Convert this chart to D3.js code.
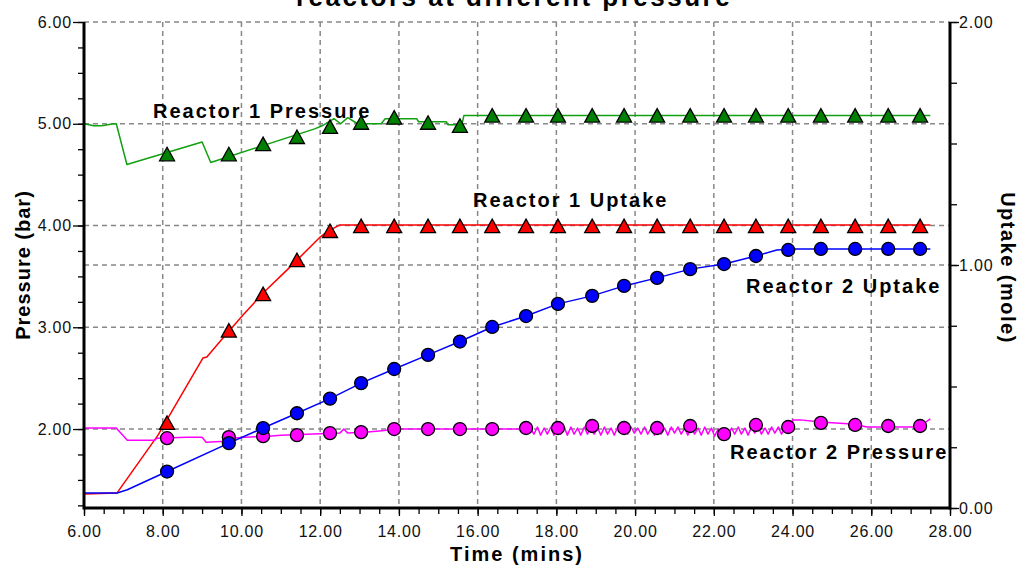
<!DOCTYPE html>
<html>
<head>
<meta charset="utf-8">
<script src="https://cdn.jsdelivr.net/npm/d3@7"></script>
<style>
  body { margin: 0; background: #fff; }
  svg { display: block; font-family: "Liberation Sans", Arial, sans-serif; }
</style>
</head>
<body>
<svg id="chart" width="1021" height="567"></svg>
<script>
// --- tick labels ---
const xMajor = [6, 8, 10, 12, 14, 16, 18, 20, 22, 24, 26, 28];
const leftMajor = [2, 3, 4, 5, 6];
const rightMajor = [0, 1, 2];

// --- marker times (mins), shared by all four series ---
const markerTimes = [8.11, 9.68, 10.55, 11.41, 12.25, 13.04, 13.88, 14.74, 15.55, 16.37, 17.23, 18.04,
    18.91, 19.72, 20.56, 21.40, 22.26, 23.07, 23.89, 24.72, 25.59, 26.43, 27.24];

// marker values
const r1PressureMarks = [4.70, 4.70, 4.80, 4.87, 4.97, 5.01, 5.06, 5.01, 4.98, 5.08, 5.08, 5.08,
    5.08, 5.08, 5.08, 5.08, 5.08, 5.08, 5.08, 5.08, 5.08, 5.08, 5.08];
const r1UptakeMarks = [0.35, 0.73, 0.88, 1.02, 1.14, 1.16, 1.16, 1.16, 1.16, 1.16, 1.16, 1.16,
    1.16, 1.16, 1.16, 1.16, 1.16, 1.16, 1.16, 1.16, 1.16, 1.16, 1.16];
const r2UptakeMarks = [0.150, 0.267, 0.329, 0.390, 0.450, 0.514, 0.572, 0.630, 0.685, 0.745, 0.790, 0.840,
    0.873, 0.914, 0.947, 0.983, 1.004, 1.037, 1.062, 1.066, 1.066, 1.066, 1.066];
const r2PressureMarks = [1.91, 1.92, 1.93, 1.94, 1.96, 1.97, 2.00, 2.00, 2.00, 2.00, 2.01, 2.01,
    2.03, 2.01, 2.01, 2.03, 1.95, 2.04, 2.02, 2.06, 2.04, 2.03, 2.03];

// --- continuous traces [time, value] ---
const r1PressureLine = [[6.00, 5.00], [6.25, 4.98], [6.45, 4.98], [6.75, 5.00], [6.82, 5.00], [7.09, 4.60],
    [9.00, 4.82], [9.22, 4.62], [11.86, 4.95], [12.05, 4.98], [12.35, 5.05], [12.52, 5.00], [12.70, 5.06],
    [12.95, 5.00], [13.55, 5.00], [13.65, 5.05], [14.45, 5.05], [14.50, 5.02], [15.20, 5.02], [15.25, 4.99],
    [15.60, 4.99], [15.65, 5.08], [27.50, 5.08]];

const r1UptakeLine = [[6.00, 0.058], [6.84, 0.062], [7.88, 0.30], [9.02, 0.617], [9.12, 0.621], [9.53, 0.70],
    [10.04, 0.794], [10.55, 0.885], [11.16, 0.98], [12.00, 1.115], [12.17, 1.136], [12.50, 1.165], [27.50, 1.165]];

const r2UptakeLine = [[6.00, 0.062], [6.84, 0.062], [7.10, 0.075], [8.11, 0.150], [9.68, 0.267], [10.55, 0.329],
    [11.41, 0.390], [12.25, 0.450], [13.04, 0.514], [13.88, 0.572], [14.74, 0.630], [15.55, 0.685], [16.37, 0.745],
    [17.23, 0.790], [18.04, 0.840], [18.91, 0.873], [19.72, 0.914], [20.56, 0.947], [21.40, 0.983], [22.26, 1.004],
    [23.07, 1.037], [23.60, 1.062], [24.00, 1.066], [27.50, 1.066]];

const r2PressureLine = [[6.00, 2.01], [6.82, 2.01], [7.10, 1.89], [7.80, 1.89], [7.85, 1.91], [8.60, 1.92],
    [9.00, 1.92], [9.10, 1.87], [9.60, 1.88], [9.70, 1.91], [10.10, 1.92], [10.70, 1.93], [11.00, 1.94],
    [12.50, 1.96], [12.60, 2.00], [12.70, 1.96], [13.20, 1.97], [13.50, 1.98], [14.00, 2.00], [17.35, 2.00],
    [17.43, 1.95], [17.52, 2.02], [17.60, 1.94], [17.69, 2.01], [17.77, 1.95], [17.86, 2.02], [17.94, 1.94],
    [18.03, 2.01], [18.11, 1.95], [18.20, 2.02], [18.28, 1.94], [18.37, 2.02], [18.45, 1.95], [18.54, 2.01],
    [18.62, 1.94], [18.71, 2.02], [18.79, 1.95], [18.88, 2.02], [18.96, 1.95], [19.05, 2.01], [19.13, 1.94],
    [19.22, 2.02], [19.30, 1.95], [19.39, 2.01], [19.47, 1.94], [19.56, 2.02], [19.64, 1.96], [19.73, 2.01],
    [19.81, 1.95], [19.90, 2.02], [19.98, 1.96], [20.07, 2.01], [20.15, 1.95], [20.24, 2.02], [20.32, 1.95],
    [20.41, 2.01], [20.49, 1.94], [20.58, 2.02], [20.66, 1.95], [20.75, 2.01], [20.83, 1.94], [20.92, 2.02],
    [21.00, 1.96], [21.09, 2.02], [21.17, 1.95], [21.26, 2.01], [21.34, 1.94], [21.43, 2.02], [21.51, 1.95],
    [21.60, 2.01], [21.68, 1.94], [21.77, 2.02], [21.85, 1.95], [21.94, 2.01], [22.02, 1.93], [22.11, 2.00],
    [22.19, 1.93], [22.28, 1.99], [22.36, 1.94], [22.45, 2.01], [22.53, 1.95], [22.62, 2.02], [22.70, 1.95],
    [22.79, 2.01], [22.87, 1.94], [22.96, 2.02], [23.04, 1.96], [23.13, 2.02], [23.21, 1.95], [23.30, 2.01],
    [23.38, 1.95], [23.47, 2.02], [23.55, 1.96], [23.64, 2.02], [23.72, 1.95], [23.81, 2.01], [23.89, 1.96],
    [23.98, 2.01], [24.00, 2.09], [24.20, 2.09], [24.70, 2.07], [25.50, 2.05], [25.90, 2.02], [27.20, 2.02],
    [27.50, 2.10]];

const svg = d3.select("#chart");
const margin = { top: 22, right: 71, bottom: 59, left: 84 };
const W = 1021, H = 567;

// scales
const x = d3.scaleLinear().domain([6, 28]).range([margin.left, W - margin.right]);
const yL = d3.scaleLinear().domain([1.224, 6]).range([H - margin.bottom, margin.top]);
const yR = d3.scaleLinear().domain([0, 2]).range([H - margin.bottom, margin.top]);
const x0 = x(6), x1 = x(28), yb = yL.range()[0], yt = yL.range()[1];

// grid
const grid = svg.append("g")
    .attr("stroke", "#888").attr("stroke-width", 1.5).attr("stroke-dasharray", "5,4");
xMajor.filter(d => d > 6 && d < 28).forEach(d => {
    grid.append("line").attr("x1", x(d)).attr("x2", x(d)).attr("y1", yt).attr("y2", yb);
});
leftMajor.forEach(d => {
    grid.append("line").attr("x1", x0).attr("x2", x1).attr("y1", yL(d)).attr("y2", yL(d));
});
grid.append("line").attr("x1", x0).attr("x2", x1).attr("y1", yR(1)).attr("y2", yR(1));

// lines
const series = [
    { line: r1PressureLine, marks: r1PressureMarks, y: yL, stroke: "#10a010", fill: "#008000", shape: "tri" },
    { line: r1UptakeLine, marks: r1UptakeMarks, y: yR, stroke: "#ff0000", fill: "#ff0000", shape: "tri" },
    { line: r2PressureLine, marks: r2PressureMarks, y: yL, stroke: "#ff00ff", fill: "#ff00ff", shape: "dot" },
    { line: r2UptakeLine, marks: r2UptakeMarks, y: yR, stroke: "#0000ff", fill: "#0000ff", shape: "dot" }
];

series.forEach(s => {
    const gen = d3.line().x(d => x(d[0])).y(d => s.y(d[1]));
    svg.append("path")
        .datum(s.line)
        .attr("fill", "none")
        .attr("stroke", s.stroke)
        .attr("stroke-width", 1.5)
        .attr("stroke-linejoin", "round")
        .attr("d", gen);
});

series.forEach(s => {
    const g = svg.append("g");
    const pts = markerTimes.map((t, i) => [t, s.marks[i]]);
    if (s.shape === "tri") {
        g.selectAll("path").data(pts).join("path")
            .attr("transform", d => `translate(${x(d[0])},${s.y(d[1])})`)
            .attr("d", "M0,-7L7.5,6.5L-7.5,6.5Z")
            .attr("fill", s.fill).attr("stroke", "#000").attr("stroke-width", 1.3);
    } else {
        g.selectAll("circle").data(pts).join("circle")
            .attr("cx", d => x(d[0])).attr("cy", d => s.y(d[1])).attr("r", 6.5)
            .attr("fill", s.fill).attr("stroke", "#000").attr("stroke-width", 1.3);
    }
});

// axes
const fmt = d3.format(".2f");
function styleAxis(g) {
    g.select(".domain").remove();
    g.selectAll("line").attr("stroke", "#000").attr("stroke-width", 1.3);
    g.selectAll("text").attr("fill", "#111").attr("font-size", 16).attr("letter-spacing", 0.8)
        .attr("font-family", "\"Liberation Sans\", Arial, sans-serif");
}

svg.append("g").attr("transform", `translate(0,${yb})`)
    .call(d3.axisBottom(x).tickValues(d3.range(6, 28.01, 0.5)).tickSize(6).tickFormat(""))
    .call(styleAxis);
svg.append("g").attr("transform", `translate(0,${yb})`)
    .call(d3.axisBottom(x).tickValues(xMajor).tickSize(8).tickPadding(10).tickFormat(fmt))
    .call(styleAxis);

svg.append("g").attr("transform", `translate(${x0},0)`)
    .call(d3.axisLeft(yL).tickValues(d3.range(1.25, 6.01, 0.25)).tickSize(6).tickFormat(""))
    .call(styleAxis);
svg.append("g").attr("transform", `translate(${x0},0)`)
    .call(d3.axisLeft(yL).tickValues(leftMajor).tickSize(11).tickPadding(1).tickFormat(fmt))
    .call(styleAxis);

svg.append("g").attr("transform", `translate(${x1},0)`)
    .call(d3.axisRight(yR).tickValues(d3.range(0, 2.01, 0.25)).tickSize(7).tickFormat(""))
    .call(styleAxis);
svg.append("g").attr("transform", `translate(${x1},0)`)
    .call(d3.axisRight(yR).tickValues(rightMajor).tickSize(9).tickPadding(0).tickFormat(fmt))
    .call(styleAxis);

// thick axis lines
svg.append("line").attr("x1", x0).attr("x2", x0).attr("y1", yt).attr("y2", yb + 1.5)
    .attr("stroke", "#000").attr("stroke-width", 3);
svg.append("line").attr("x1", x1).attr("x2", x1).attr("y1", yt).attr("y2", yb + 1.5)
    .attr("stroke", "#000").attr("stroke-width", 3);
svg.append("line").attr("x1", x0).attr("x2", x1).attr("y1", yb).attr("y2", yb)
    .attr("stroke", "#000").attr("stroke-width", 3);

// text
function bold(sel, size, spacing) {
    return sel.attr("font-weight", "bold").attr("font-size", size).attr("letter-spacing", spacing).attr("fill", "#000");
}
bold(svg.append("text").attr("x", 514).attr("y", 6).attr("text-anchor", "middle"), 26, 2.5)
    .text("reactors at different pressure");
bold(svg.append("text").attr("x", (x0 + x1) / 2).attr("y", 561).attr("text-anchor", "middle"), 20, 2)
    .text("Time (mins)");
bold(svg.append("text").attr("transform", "translate(30,265) rotate(-90)").attr("text-anchor", "middle"), 20, 1)
    .text("Pressure (bar)");
bold(svg.append("text").attr("transform", "translate(1001,268) rotate(90)").attr("text-anchor", "middle"), 20, 1.5)
    .text("Uptake (mole)");

const seriesLabels = [
    { text: "Reactor 1 Pressure", x: 153, y: 118 },
    { text: "Reactor 1 Uptake", x: 473, y: 207 },
    { text: "Reactor 2 Uptake", x: 746, y: 293 },
    { text: "Reactor 2 Pressure", x: 730, y: 459 }
];
seriesLabels.forEach(l => {
    bold(svg.append("text").attr("x", l.x).attr("y", l.y), 20, 2).text(l.text);
});
</script>
</body>
</html>
